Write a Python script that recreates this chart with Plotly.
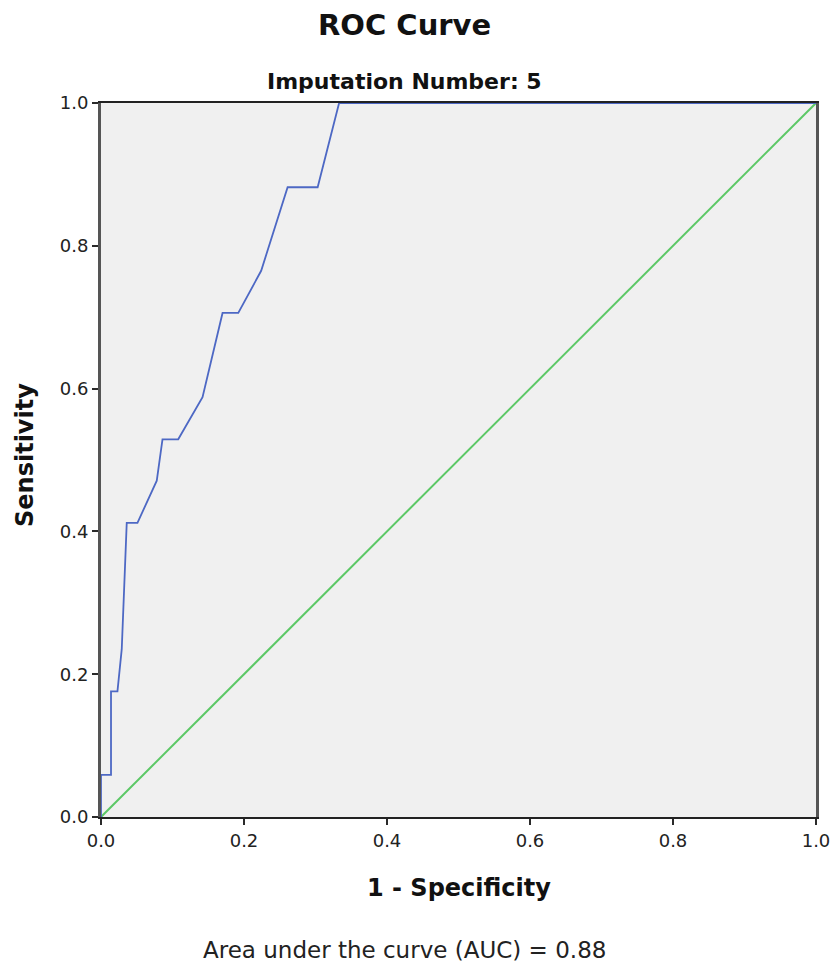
import plotly.graph_objects as go

# ROC curve points (1 - specificity, sensitivity)
fpr = [0.0, 0.0, 0.014, 0.014, 0.023, 0.029, 0.036, 0.051, 0.078, 0.086,
       0.108, 0.142, 0.170, 0.192, 0.224, 0.261, 0.303, 0.333, 1.0]
tpr = [0.0, 0.059, 0.059, 0.176, 0.176, 0.235, 0.412, 0.412, 0.471, 0.529,
       0.529, 0.588, 0.706, 0.706, 0.765, 0.882, 0.882, 1.0, 1.0]
ref_x = [0.0, 1.0]
ref_y = [0.0, 1.0]
tick_vals = [0.0, 0.2, 0.4, 0.6, 0.8, 1.0]
tick_text = ["0.0", "0.2", "0.4", "0.6", "0.8", "1.0"]

title_text = "ROC Curve"
subtitle_text = "Imputation Number: 5"
x_title = "1 - Specificity"
y_title = "Sensitivity"
auc_text = "Area under the curve (AUC) = 0.88"

FONT = "DejaVu Sans, Liberation Sans, Arial, sans-serif"

fig = go.Figure()
fig.add_trace(go.Scatter(x=ref_x, y=ref_y, mode="lines",
                         line=dict(color="#5cc866", width=2),
                         hoverinfo="skip", showlegend=False))
fig.add_trace(go.Scatter(x=fpr, y=tpr, mode="lines",
                         line=dict(color="#4d68c4", width=1.8),
                         showlegend=False))

axis_common = dict(range=[0, 1], tickvals=tick_vals, ticktext=tick_text,
                   showgrid=False, zeroline=False, showline=True, mirror=True,
                   ticks="outside", ticklen=6, tickwidth=2, tickcolor="#2a2a2a",
                   automargin=False,
                   tickfont=dict(family=FONT, size=18, color="#222222"))

fig.update_layout(
    width=833, height=967,
    margin=dict(l=101, r=17, t=103, b=150),
    paper_bgcolor="white", plot_bgcolor="#f0f0f0",
    xaxis=dict(**axis_common, linecolor="#222222", linewidth=2),
    yaxis=dict(**axis_common, linecolor="#555555", linewidth=3),
    annotations=[
        dict(text=f"<b>{title_text}</b>", xref="paper", yref="paper",
             x=0.424, y=(817 - 25) / 714, xanchor="center", yanchor="middle",
             showarrow=False, font=dict(family=FONT, size=29, color="#111111")),
        dict(text=f"<b>{subtitle_text}</b>", xref="paper", yref="paper",
             x=0.424, y=(817 - 81) / 714, xanchor="center", yanchor="middle",
             showarrow=False, font=dict(family=FONT, size=22, color="#111111")),
        dict(text=f"<b>{x_title}</b>", xref="paper", yref="paper",
             x=0.5, y=(817 - 888) / 714, xanchor="center", yanchor="middle",
             showarrow=False, font=dict(family=FONT, size=24, color="#111111")),
        dict(text=f"<b>{y_title}</b>", xref="paper", yref="paper",
             x=(25 - 101) / 715, y=(817 - 455) / 714, xanchor="center",
             yanchor="middle", textangle=-90, showarrow=False,
             font=dict(family=FONT, size=24, color="#111111")),
        dict(text=auc_text, xref="paper", yref="paper",
             x=0.424, y=(817 - 950) / 714, xanchor="center", yanchor="middle",
             showarrow=False, font=dict(family=FONT, size=23, color="#222222")),
    ],
)

fig.write_html("out.html",
               config={"displayModeBar": False},
               post_script="document.body.style.margin='0';"
                           "document.body.style.padding='0';")
